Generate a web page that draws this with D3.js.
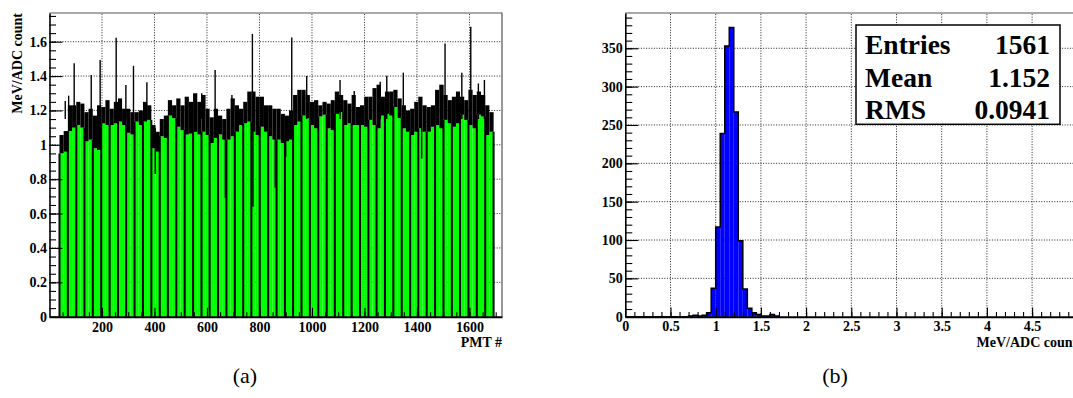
<!DOCTYPE html>
<html>
<head>
<meta charset="utf-8">
<script src="https://cdn.jsdelivr.net/npm/d3@7"></script>
<style>
  body { margin: 0; background: #fff; }
  svg { display: block; }
  text { font-family: "Liberation Serif", "Times New Roman", serif; }
</style>
</head>
<body>
<svg id="chart" width="1073" height="398"></svg>
<script>
// ---------- (a) calibration constant per PMT ----------
// Board boundaries (PMT number); each board is split into two halves.
const pmtEdges = [38,70,102,133,165,197,229,261,292,324,356,388,420,451,483,515,547,579,610,642,
  674,706,738,769,801,833,865,897,928,960,992,1024,1056,1087,1119,1151,1183,1215,1246,1278,
  1310,1342,1374,1405,1437,1469,1501,1533,1564,1596,1628,1660,1692];
// Lowest value reached inside each half-board (top of the solid fill)
const halfLow = [
  0.95,0.96, 1.08,1.10, 1.115,1.10, 1.02,1.03, 0.98,0.97, 1.125,1.115, 1.115,1.125, 1.135,1.115,
  1.07,1.06, 1.135,1.115, 1.135,1.145, 0.98,0.96, 1.05,1.04, 1.17,1.155, 1.105,1.085, 1.06,1.065,
  1.075,1.06, 1.076,1.057, 1.01,1.04, 1.06,1.03, 1.03,1.05, 1.076,1.115, 1.125,1.135, 1.076,1.057,
  1.105,1.076, 1.05,1.03, 1.03,1.01, 1.02,1.03, 1.115,1.135, 1.17,1.155, 1.115,1.096, 1.165,1.175,
  1.096,1.085, 1.18,1.19, 1.115,1.125, 1.115,1.115, 1.115,1.105, 1.145,1.115, 1.096,1.17, 1.18,1.17,
  1.22,1.155, 1.096,1.076, 1.057,1.076, 1.096,1.076, 1.076,1.105, 1.115,1.096, 1.145,1.125, 1.105,1.125,
  1.175,1.145, 1.115,1.096, 1.175,1.165, 1.057,1.076];
// Highest value reached inside each half-board (top of the dense black band)
const halfHigh = [
  1.057,1.08, 1.23,1.23, 1.25,1.24, 1.19,1.21, 1.17,1.23, 1.22,1.26, 1.21,1.25, 1.27,1.21,
  1.21,1.19, 1.19,1.20, 1.25,1.23, 1.115,1.076, 1.15,1.17, 1.26,1.23, 1.27,1.23, 1.28,1.25,
  1.30,1.25, 1.29,1.21, 1.16,1.21, 1.17,1.15, 1.21,1.27, 1.23,1.21, 1.25,1.31, 1.31,1.28,
  1.28,1.23, 1.23,1.21, 1.21,1.18, 1.17,1.20, 1.29,1.32, 1.32,1.29, 1.25,1.26, 1.23,1.25,
  1.24,1.26, 1.31,1.29, 1.26,1.24, 1.29,1.22, 1.23,1.28, 1.28,1.33, 1.35,1.28, 1.31,1.31,
  1.32,1.27, 1.23,1.20, 1.21,1.25, 1.28,1.23, 1.22,1.23, 1.32,1.35, 1.29,1.26, 1.28,1.31,
  1.28,1.26, 1.32,1.29, 1.31,1.29, 1.23,1.19];
// Isolated high channels [PMT, value]
const highChannels = [[60,1.255],[73,1.286],[94,1.474],[159,1.406],[193,1.493],[254,1.623],[291,1.348],
  [320,1.46],[371,1.364],[580,1.30],[631,1.435],[695,1.29],[773,1.645],[923,1.625],[980,1.40],
  [1107,1.377],[1161,1.313],[1260,1.367],[1285,1.402],[1348,1.42],[1498,1.348],[1507,1.59],
  [1571,1.42],[1605,1.687],[1634,1.357],[1657,1.377]];
// Isolated low channels [PMT, value]
const lowChannels = [[403,0.83],[670,0.69],[775,0.64],[860,0.75],[900,0.93],[1418,0.92]];
const pmtTicks = [200,400,600,800,1000,1200,1400,1600];
const calTicks = [0,0.2,0.4,0.6,0.8,1.0,1.2,1.4,1.6];

// ---------- (b) distribution of calibration constants ----------
const gainBinLow = [0.70,0.75,0.80,0.85,0.90,0.95,1.00,1.05,1.10,1.15,1.20,1.25,1.30,1.35,1.40,1.45,1.50,1.55,1.60,1.65];
const gainCounts = [1,2,1,2,5,37,117,239,353,377,267,99,36,11,5,3,1,1,3,1];
const gainBinWidth = 0.05;
const gainTicks = [0,0.5,1,1.5,2,2.5,3,3.5,4,4.5];
const countTicks = [0,50,100,150,200,250,300,350];
const statNames = ["Entries", "Mean", "RMS"];
const statValues = ["1561", "1.152", "0.0941"];

const svg = d3.select("#chart");
const fmt = d => d === 0 ? "0" : String(+d.toFixed(2));
const FONT = "Liberation Serif, Times New Roman, serif";
const TICK_FONT = 14;

function styleAxis(g) {
  g.attr("font-family", FONT).attr("font-size", TICK_FONT).attr("font-weight", "bold");
  g.selectAll(".tick text").attr("fill", "#000");
  g.selectAll(".tick line").attr("stroke", "#000").attr("stroke-width", 1.1);
}
function dotted(g) {
  return g.attr("stroke", "#222").attr("stroke-width", 1).attr("stroke-dasharray", "1,1.6");
}

// ================= Panel (a) =================
const xA = d3.scaleLinear().domain([0, 1724]).range([49.5, 502]);
const yA = d3.scaleLinear().domain([0, 1.767]).range([316.7, 13]);
const pA = svg.append("g");

// grid
pA.append("g").selectAll("line").data(pmtTicks).join("line")
  .attr("x1", d => xA(d)).attr("x2", d => xA(d)).attr("y1", yA.range()[0]).attr("y2", yA.range()[1])
  .call(dotted);
pA.append("g").selectAll("line").data(calTicks.filter(d => d > 0)).join("line")
  .attr("y1", d => yA(d)).attr("y2", d => yA(d)).attr("x1", xA.range()[0]).attr("x2", xA.range()[1])
  .call(dotted);

// half-board segments
const halves = [];
for (let b = 0; b < pmtEdges.length - 1; b++) {
  const a = pmtEdges[b], e = pmtEdges[b + 1], m = (a + e) / 2;
  halves.push({ x0: a, x1: m, lo: halfLow[2 * b], hi: halfHigh[2 * b] });
  halves.push({ x0: m, x1: e, lo: halfLow[2 * b + 1], hi: halfHigh[2 * b + 1] });
}
pA.append("g").selectAll("rect").data(halves).join("rect")
  .attr("x", d => xA(d.x0)).attr("width", d => xA(d.x1) - xA(d.x0))
  .attr("y", d => yA(d.lo)).attr("height", d => yA(0) - yA(d.lo))
  .attr("fill", "#00ff00");
pA.append("g").selectAll("rect").data(halves).join("rect")
  .attr("x", d => xA(d.x0)).attr("width", d => xA(d.x1) - xA(d.x0))
  .attr("y", d => yA(d.hi)).attr("height", d => yA(d.lo) - yA(d.hi))
  .attr("fill", "#000");
// empty channels at board boundaries
pA.append("g").selectAll("line").data(pmtEdges).join("line")
  .attr("x1", d => xA(d)).attr("x2", d => xA(d))
  .attr("y1", yA(0))
  .attr("y2", (d, i) => {
    const l = halves[Math.max(0, 2 * i - 1)], r = halves[Math.min(halves.length - 1, 2 * i)];
    return yA(Math.max(l.lo, r.lo));
  })
  .attr("stroke", "#000").attr("stroke-width", 2);
// isolated channels
pA.append("g").selectAll("line").data(highChannels).join("line")
  .attr("x1", d => xA(d[0])).attr("x2", d => xA(d[0]))
  .attr("y1", d => yA(1.15)).attr("y2", d => yA(d[1]))
  .attr("stroke", "#000").attr("stroke-width", 1.4);
pA.append("g").selectAll("line").data(lowChannels).join("line")
  .attr("x1", d => xA(d[0])).attr("x2", d => xA(d[0]))
  .attr("y1", d => yA(1.1)).attr("y2", d => yA(d[1]))
  .attr("stroke", "#000").attr("stroke-width", 1.4);

// frame
pA.append("path")
  .attr("d", `M${xA.range()[0]},${yA.range()[1]}H${xA.range()[1]}V${yA.range()[0]}`)
  .attr("fill", "none").attr("stroke", "#555").attr("stroke-width", 1.2);

// axes
const axA = pA.append("g").attr("transform", `translate(0,${yA(0)})`);
axA.call(d3.axisBottom(xA).tickValues(d3.range(50, 1724, 50)).tickSizeInner(-4.5).tickSizeOuter(0).tickFormat(""));
axA.call(styleAxis);
axA.select(".domain").remove();
const axA2 = pA.append("g").attr("transform", `translate(0,${yA(0)})`);
axA2.call(d3.axisBottom(xA).tickValues(pmtTicks).tickSizeInner(-9).tickSizeOuter(0).tickPadding(5).tickFormat(fmt));
axA2.call(styleAxis);
axA2.select(".domain").attr("stroke", "#000").attr("stroke-width", 2);

const ayA = pA.append("g").attr("transform", `translate(${xA.range()[0]},0)`);
ayA.call(d3.axisLeft(yA).tickValues(d3.range(0, 1.76, 0.05)).tickSizeInner(-6.5).tickSizeOuter(0).tickFormat(""));
ayA.call(styleAxis);
ayA.select(".domain").remove();
const ayA2 = pA.append("g").attr("transform", `translate(${xA.range()[0]},0)`);
ayA2.call(d3.axisLeft(yA).tickValues(calTicks).tickSizeInner(-13).tickSizeOuter(0).tickPadding(2.5).tickFormat(fmt));
ayA2.call(styleAxis);
ayA2.select(".domain").attr("stroke", "#000").attr("stroke-width", 1.6);

pA.append("text").attr("x", 502).attr("y", 346.7).attr("text-anchor", "end")
  .attr("font-size", 14).attr("font-weight", "bold").text("PMT #");
pA.append("text").attr("transform", "translate(21.7,13) rotate(-90)").attr("text-anchor", "end")
  .attr("font-size", 14).attr("font-weight", "bold").text("MeV/ADC count");

// ================= Panel (b) =================
const xB = d3.scaleLinear().domain([0, 5]).range([625.3, 1077.3]);
const yB = d3.scaleLinear().domain([0, 396]).range([316.7, 13]);
const pB = svg.append("g");

pB.append("g").selectAll("line").data(gainTicks.filter(d => d > 0)).join("line")
  .attr("x1", d => xB(d)).attr("x2", d => xB(d)).attr("y1", yB.range()[0]).attr("y2", yB.range()[1])
  .call(dotted);
pB.append("g").selectAll("line").data(countTicks.filter(d => d > 0)).join("line")
  .attr("y1", d => yB(d)).attr("y2", d => yB(d)).attr("x1", xB.range()[0]).attr("x2", xB.range()[1])
  .call(dotted);

// histogram bars and outline
pB.append("g").selectAll("rect").data(gainCounts).join("rect")
  .attr("x", (d, i) => xB(gainBinLow[i])).attr("width", xB(gainBinWidth) - xB(0))
  .attr("y", d => yB(d)).attr("height", d => yB(0) - yB(d))
  .attr("fill", "#0000ff");
let outline = `M${xB(0)},${yB(0)}H${xB(gainBinLow[0])}`;
gainCounts.forEach((c, i) => {
  outline += `V${yB(c)}H${xB(gainBinLow[i] + gainBinWidth)}`;
});
outline += `V${yB(0)}`;
pB.append("path").attr("d", outline).attr("fill", "none").attr("stroke", "#000").attr("stroke-width", 1.5);

pB.append("path")
  .attr("d", `M${xB.range()[0]},${yB.range()[1]}H${xB.range()[1]}V${yB.range()[0]}`)
  .attr("fill", "none").attr("stroke", "#555").attr("stroke-width", 1.2);

const axB = pB.append("g").attr("transform", `translate(0,${yB(0)})`);
axB.call(d3.axisBottom(xB).tickValues(d3.range(0.1, 5, 0.1)).tickSizeInner(-4.7).tickSizeOuter(0).tickFormat(""));
axB.call(styleAxis);
axB.select(".domain").remove();
const axB2 = pB.append("g").attr("transform", `translate(0,${yB(0)})`);
axB2.call(d3.axisBottom(xB).tickValues(gainTicks).tickSizeInner(-9.3).tickSizeOuter(0).tickPadding(4).tickFormat(fmt));
axB2.call(styleAxis);
axB2.select(".domain").attr("stroke", "#000").attr("stroke-width", 2);

const ayB = pB.append("g").attr("transform", `translate(${xB.range()[0]},0)`);
ayB.call(d3.axisLeft(yB).tickValues(d3.range(10, 396, 10)).tickSizeInner(-7).tickSizeOuter(0).tickFormat(""));
ayB.call(styleAxis);
ayB.select(".domain").remove();
const ayB2 = pB.append("g").attr("transform", `translate(${xB.range()[0]},0)`);
ayB2.call(d3.axisLeft(yB).tickValues(countTicks).tickSizeInner(-13).tickSizeOuter(0).tickPadding(2.5).tickFormat(fmt));
ayB2.call(styleAxis);
ayB2.select(".domain").attr("stroke", "#000").attr("stroke-width", 1.6);

// axis title runs past the right edge of the page, as in the printed figure
pB.append("text").attr("x", 1077.3).attr("y", 346.7).attr("text-anchor", "end")
  .attr("font-size", 14).attr("font-weight", "bold").text("MeV/ADC count");

// statistics box
const stats = pB.append("g");
stats.append("rect").attr("x", 856).attr("y", 25).attr("width", 204).attr("height", 99.3)
  .attr("fill", "#fff").attr("stroke", "#000").attr("stroke-width", 1.5);
statNames.forEach((n, i) => {
  const yb = 54 + i * 32.7;
  stats.append("text").attr("x", 865).attr("y", yb).attr("font-size", 27.5).attr("font-weight", "bold").text(n);
  stats.append("text").attr("x", 1050).attr("y", yb).attr("text-anchor", "end")
    .attr("font-size", 27.5).attr("font-weight", "bold").text(statValues[i]);
});

// sub-figure captions
svg.append("text").attr("x", 245).attr("y", 383).attr("text-anchor", "middle").attr("font-size", 22).text("(a)");
svg.append("text").attr("x", 835).attr("y", 383).attr("text-anchor", "middle").attr("font-size", 22).text("(b)");
</script>
</body>
</html>
